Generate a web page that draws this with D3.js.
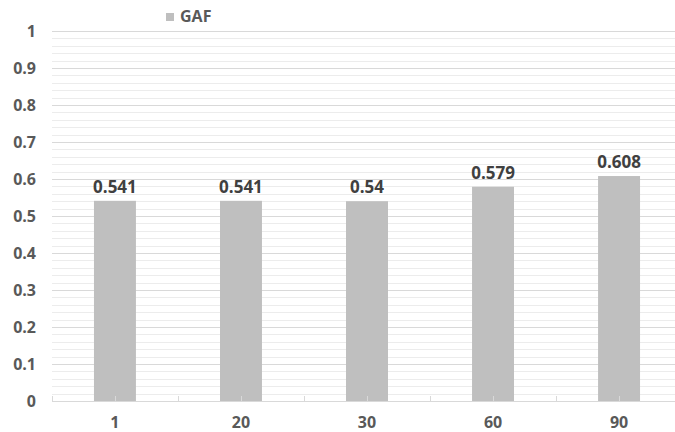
<!DOCTYPE html>
<html><head><meta charset="utf-8">
<script src="https://cdn.jsdelivr.net/npm/d3@7/dist/d3.min.js"></script>
<style>body{margin:0;background:#fff}svg{display:block}text{font-family:"Open Sans",sans-serif;font-weight:bold}</style>
</head><body><svg id="c" width="675" height="432"></svg>
<script>
const categories = ["1","20","30","60","90"];
const values = [0.541,0.541,0.54,0.579,0.608];
const valueLabels = ["0.541","0.541","0.54","0.579","0.608"];
const yTicks = [0,0.1,0.2,0.3,0.4,0.5,0.6,0.7,0.8,0.9,1];
const seriesName = "GAF";

const svg = d3.select("#c");
const x = d3.scaleBand().domain(categories).range([52,682]).paddingInner(0.667).paddingOuter(0.333);
const y = d3.scaleLinear().domain([0,1]).range([401,31]);

// minor gridlines
const minor = d3.range(0,1.0001,0.02).filter(v=>Math.abs(v*10-Math.round(v*10))>1e-6);
svg.append("g").selectAll("line").data(minor).join("line")
  .attr("x1",52).attr("x2",675).attr("y1",d=>Math.round(y(d))+0.5).attr("y2",d=>Math.round(y(d))+0.5)
  .attr("stroke","#ececec").attr("stroke-width",1);
svg.append("g").selectAll("line").data(yTicks.filter(v=>v>0)).join("line")
  .attr("x1",52).attr("x2",675).attr("y1",d=>Math.round(y(d))+0.5).attr("y2",d=>Math.round(y(d))+0.5)
  .attr("stroke","#d9d9d9").attr("stroke-width",1);

// y labels
svg.append("g").selectAll("text").data(yTicks).join("text")
  .attr("x",36).attr("y",d=>y(d)+5.5).attr("text-anchor","end")
  .attr("font-size",16).attr("fill","#595959").text(d=>d3.format("")(+d.toFixed(1)));

// bars
svg.append("g").selectAll("rect").data(values).join("rect")
  .attr("x",(d,i)=>x(categories[i])).attr("width",x.bandwidth())
  .attr("y",d=>y(d)).attr("height",d=>y(0)-y(d)).attr("fill","#bfbfbf");

// x axis ticks (boundaries and centers, pointing up)
const step = x.step();
const tickPos = d3.range(categories.length*2+1).map(i=>52+i*step/2);
svg.append("g").selectAll("line").data(tickPos).join("line")
  .attr("x1",d=>Math.round(d)+0.5).attr("x2",d=>Math.round(d)+0.5).attr("y1",396).attr("y2",401)
  .attr("stroke","#d9d9d9");
svg.append("line").attr("x1",52).attr("x2",675).attr("y1",401.5).attr("y2",401.5).attr("stroke","#d9d9d9");

// value labels
svg.append("g").selectAll("text").data(values).join("text")
  .attr("x",(d,i)=>x(categories[i])+x.bandwidth()/2).attr("y",d=>y(d)-8)
  .attr("text-anchor","middle").attr("font-size",17).attr("fill","#404040")
  .text((d,i)=>valueLabels[i]);

svg.append("g").selectAll("text").data(categories).join("text")
  .attr("x",d=>x(d)+x.bandwidth()/2).attr("y",428).attr("text-anchor","middle")
  .attr("font-size",16).attr("fill","#595959").text(d=>d);

// legend
svg.append("rect").attr("x",166).attr("y",13).attr("width",8).attr("height",8).attr("fill","#bfbfbf");
svg.append("text").attr("x",180).attr("y",22).attr("font-size",16).attr("fill","#595959").text(seriesName);
</script></body></html>
